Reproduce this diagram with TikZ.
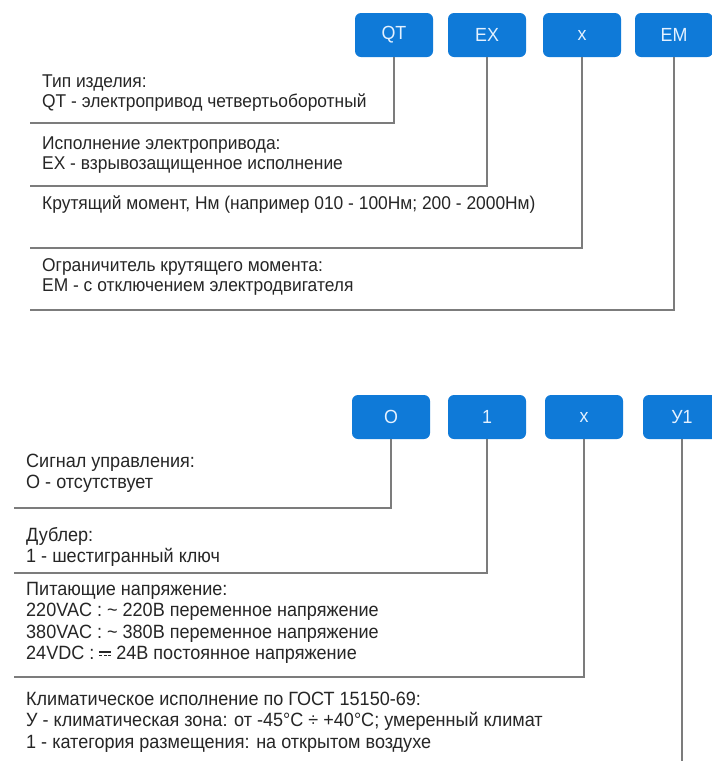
\documentclass[tikz,border=0pt]{standalone}
\usepackage{fontspec}
\setmainfont[FakeStretch=0.94]{Liberation Sans}
\usepackage{xcolor}
\usetikzlibrary{positioning}
\definecolor{bleu}{HTML}{0F7AD8}
\definecolor{blanc}{HTML}{E4F1FF}
\definecolor{texte}{HTML}{262626}
\definecolor{gris}{HTML}{7C7C7C}
\def\largeur{712}
\def\hauteur{761}
% signe du courant continu
\newcommand{\dcsign}{\mbox{\rlap{\rule[0.36em]{0.62em}{0.07em}}\rule[0.18em]{0.16em}{0.07em}\hspace{0.07em}\rule[0.18em]{0.16em}{0.07em}\hspace{0.07em}\rule[0.18em]{0.16em}{0.07em}}}

\begin{document}
\begin{tikzpicture}[x=1pt, y=-1pt,
	code/.style={fill=bleu, rounded corners=6pt, minimum width=78pt, minimum height=44pt, inner sep=0pt, text=blanc, font=\fontsize{19}{20}\selectfont},
	desc/.style={anchor=west, align=left, inner sep=0pt, text=texte, font=\fontsize{18.5}{20.5}\selectfont},
	descbas/.style={desc, font=\fontsize{19.2}{21.3}\selectfont},
	lien/.style={draw=gris, line width=1.2pt}]
	\clip (0,0) rectangle (\largeur,\hauteur);
	\fill[white] (0,0) rectangle (\largeur,\hauteur);
	%\draw[step=50, line width=0.2pt, black!20!white] (0,0) grid (\largeur,\hauteur);

	% QT EX x EM
	\node[code] (qt) at (394,35) {QT};
	\node[code] (ex) at (487,35) {EX};
	\node[code] (mt) at (582,35) {x};
	\node[code] (em) at (674,35) {EM};
	\coordinate (qtfin) at (30,123);
	\coordinate (exfin) at (30,186);
	\coordinate (mtfin) at (30,248);
	\coordinate (emfin) at (30,310);
	\draw[lien] (qt.south) |- (qtfin);
	\draw[lien] (ex.south) |- (exfin);
	\draw[lien] (mt.south) |- (mtfin);
	\draw[lien] (em.south) |- (emfin);
	\node[desc] (qtdesc) at (42,93) {Тип изделия:\\QT - электропривод четвертьоборотный};
	\node[desc] (exdesc) at (42,155) {Исполнение электропривода:\\EX - взрывозащищенное исполнение};
	\node[desc] (mtdesc) at (42,205) {Крутящий момент, Нм (например 010 - 100Нм; 200 - 2000Нм)};
	\node[desc] (emdesc) at (42,277) {Ограничитель крутящего момента:\\EM - с отключением электродвигателя};

	% O 1 x У1
	\node[code] (sig) at (391,417) {О};
	\node[code] (dub) at (487,417) {1};
	\node[code] (pit) at (584,417) {x};
	\node[code] (kl) at (682,417) {У1};
	\coordinate (sigfin) at (14,508);
	\coordinate (dubfin) at (14,573);
	\coordinate (pitfin) at (14,677);
	\coordinate (klfin) at (682,\hauteur);
	\draw[lien] (sig.south) |- (sigfin);
	\draw[lien] (dub.south) |- (dubfin);
	\draw[lien] (pit.south) |- (pitfin);
	\draw[lien] (kl.south) -- (klfin);
	\node[descbas] (sigdesc) at (26,473) {Сигнал управления:\\О - отсутствует};
	\node[descbas] (dubdesc) at (26,547) {Дублер:\\1 - шестигранный ключ};
	\node[descbas] (pitdesc) at (26,623) {Питающие напряжение:\\220VAC : \textasciitilde{} 220В переменное напряжение\\380VAC : \textasciitilde{} 380В переменное напряжение\\24VDC : \dcsign{} 24В постоянное напряжение};
	\node[descbas] (kldesc) at (26,722) {Климатическое исполнение по ГОСТ 15150-69:\\У - климатическая зона: от -45°C ÷ +40°C; умеренный климат\\1 - категория размещения: на открытом воздухе};
\end{tikzpicture}
\end{document}
